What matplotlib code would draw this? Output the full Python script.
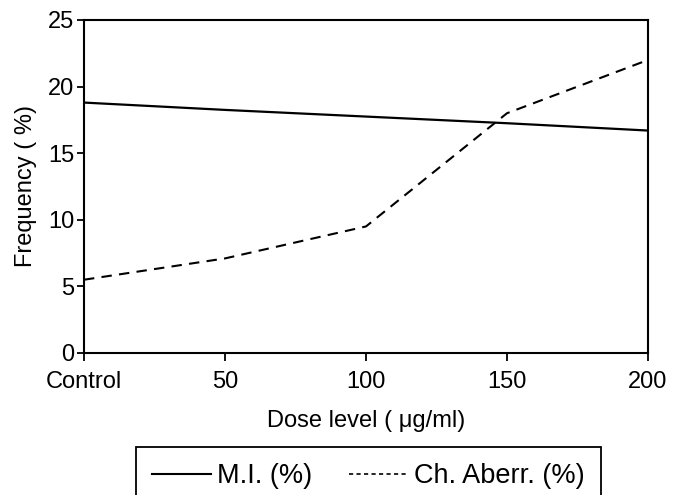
import matplotlib.pyplot as plt
from matplotlib.lines import Line2D

plt.rcParams['font.family'] = ['Liberation Sans', 'DejaVu Sans']

# data
dose_labels = ["Control", "50", "100", "150", "200"]
dose = [0, 50, 100, 150, 200]
mitotic_index = [18.8, 18.25, 17.75, 17.25, 16.7]
ch_aberr = [5.5, 7.1, 9.5, 18.0, 22.0]
y_ticks = [0, 5, 10, 15, 20, 25]
series_names = ["M.I. (%)", "Ch. Aberr. (%)"]

fig = plt.figure(figsize=(6.75, 4.95), dpi=100)
ax = fig.add_axes([0.1244, 0.2869, 0.8356, 0.6727])

ax.plot(dose, mitotic_index, color="black", lw=1.6)
ax.plot(dose, ch_aberr, color="black", lw=1.5, ls=(0, (5, 3.5)))

ax.set_xlim(0, 200)
ax.set_ylim(0, 25)
ax.set_xticks(dose)
ax.set_xticklabels(dose_labels)
ax.set_yticks(y_ticks)
ax.tick_params(axis="x", direction="out", length=6, width=1.3, labelsize=17, pad=7)
ax.tick_params(axis="y", direction="out", length=5, width=1.3, labelsize=17, pad=2)
for s in ax.spines.values():
    s.set_linewidth(1.5)

ax.set_xlabel("Dose level ( \u03bcg/ml)", fontsize=17, labelpad=12)
ax.set_ylabel("Frequency ( %)", fontsize=17, labelpad=8)

# legend uses finer dashes than the plotted line, like the original
handles = [Line2D([], [], color="black", lw=1.5),
           Line2D([], [], color="black", lw=1.2, ls=(0, (2.5, 2)))]
leg = fig.legend(handles, series_names, loc="upper right",
                 bbox_to_anchor=(0.8904, 0.097), ncol=2,
                 fontsize=19.5, frameon=True, fancybox=False, handlelength=2.15,
                 handletextpad=0.25, columnspacing=1.35, borderpad=0.6,
                 borderaxespad=0)
leg.get_frame().set_edgecolor("black")
leg.get_frame().set_linewidth(1.3)
leg.get_frame().set_alpha(1)

fig.savefig("out.png", dpi=100)
